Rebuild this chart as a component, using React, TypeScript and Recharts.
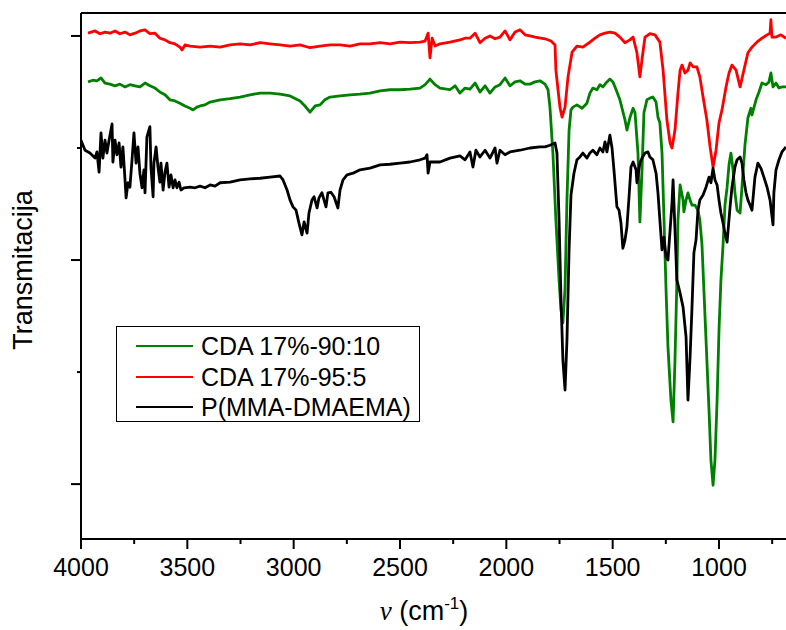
import { LineChart, Line, XAxis, YAxis, ReferenceLine } from 'recharts';

// FTIR spectra, [wavenumber cm-1, transmittance a.u.]
const greenSpectrum: [number, number][] = [
  [3967, 91.8], [3944, 92.1], [3925, 92.0], [3906, 92.5], [3887, 91.6], [3864, 91.4], [3840, 91.1], [3817, 91.4],
  [3793, 90.9], [3770, 91.3], [3746, 91.1], [3723, 90.9], [3699, 91.6], [3676, 91.1], [3652, 90.7], [3629, 90.0],
  [3605, 89.5], [3582, 88.6], [3558, 88.4], [3535, 88.0], [3511, 87.5], [3487, 87.1], [3473, 86.8], [3455, 87.3],
  [3440, 87.5], [3417, 87.7], [3393, 88.2], [3346, 88.6], [3299, 88.8], [3252, 89.1], [3205, 89.5], [3158, 89.8],
  [3111, 89.8], [3064, 89.6], [3017, 89.3], [2970, 88.4], [2947, 87.5], [2923, 86.4], [2899, 87.5], [2876, 87.7],
  [2853, 88.6], [2829, 89.1], [2782, 89.3], [2735, 89.5], [2688, 89.6], [2641, 89.8], [2594, 90.2], [2547, 90.4],
  [2500, 90.4], [2453, 90.5], [2406, 90.7], [2382, 91.3], [2359, 92.3], [2335, 91.3], [2312, 90.7], [2265, 90.4],
  [2241, 91.1], [2218, 89.8], [2194, 90.7], [2171, 90.5], [2147, 91.6], [2124, 90.0], [2100, 91.1], [2077, 89.8],
  [2053, 90.9], [2030, 91.3], [2006, 92.5], [1983, 91.1], [1959, 91.8], [1936, 92.0], [1912, 91.4], [1889, 91.4],
  [1865, 91.8], [1842, 92.0], [1818, 91.4], [1804, 90.4], [1795, 87.3], [1781, 79.1], [1767, 67.1], [1752, 56.4],
  [1743, 51.1], [1734, 48.8], [1724, 55.0], [1715, 70.7], [1705, 83.2], [1696, 86.8], [1687, 87.3], [1668, 87.7],
  [1644, 87.1], [1621, 88.0], [1607, 89.8], [1593, 90.7], [1574, 90.4], [1560, 91.3], [1546, 90.9], [1527, 91.8],
  [1513, 92.3], [1499, 91.8], [1489, 90.9], [1466, 88.6], [1442, 85.0], [1433, 83.2], [1419, 85.4], [1404, 87.1],
  [1395, 86.3], [1381, 79.1], [1372, 66.8], [1362, 76.1], [1353, 86.3], [1339, 88.6], [1325, 88.9], [1311, 89.1],
  [1296, 88.2], [1287, 85.5], [1278, 84.5], [1268, 79.1], [1259, 67.7], [1249, 54.6], [1240, 44.5], [1226, 35.0],
  [1216, 31.1], [1207, 42.1], [1198, 56.4], [1193, 67.1], [1183, 73.4], [1169, 70.7], [1165, 68.6], [1155, 70.7],
  [1146, 72.0], [1136, 70.7], [1127, 69.8], [1113, 69.8], [1099, 68.9], [1090, 67.1], [1080, 62.7], [1071, 54.6],
  [1061, 45.7], [1047, 33.2], [1038, 24.3], [1028, 19.8], [1019, 24.3], [1009, 35.0], [1000, 47.5], [991, 56.4],
  [981, 62.7], [972, 69.8], [962, 73.0], [953, 77.0], [944, 79.1], [934, 76.1], [925, 72.0], [915, 68.9],
  [901, 68.4], [892, 73.0], [878, 80.5], [864, 85.4], [850, 87.1], [845, 85.9], [826, 88.6], [812, 90.0],
  [798, 91.6], [779, 91.3], [765, 91.8], [756, 93.4], [746, 90.9], [732, 91.6], [718, 90.7], [704, 90.9], [685, 90.9],
];

const redSpectrum: [number, number][] = [
  [3967, 100.5], [3934, 100.9], [3911, 100.4], [3887, 100.7], [3864, 100.5], [3840, 100.9], [3817, 100.4], [3793, 100.7],
  [3770, 100.2], [3746, 100.5], [3723, 100.9], [3699, 101.1], [3676, 100.4], [3652, 100.5], [3629, 99.6], [3605, 99.3],
  [3582, 98.8], [3558, 98.6], [3535, 98.0], [3525, 97.5], [3511, 98.4], [3487, 98.2], [3440, 98.0], [3393, 98.2],
  [3346, 98.0], [3299, 98.4], [3252, 98.6], [3205, 98.4], [3158, 98.8], [3111, 98.6], [3064, 98.4], [3017, 98.2],
  [2970, 98.4], [2923, 97.9], [2876, 98.2], [2829, 98.4], [2782, 98.4], [2735, 98.2], [2688, 98.6], [2641, 98.6],
  [2594, 98.8], [2547, 98.6], [2500, 98.9], [2453, 98.8], [2406, 98.9], [2382, 99.1], [2368, 100.5], [2359, 96.1],
  [2349, 99.6], [2335, 98.2], [2312, 98.6], [2265, 98.9], [2218, 99.3], [2194, 99.6], [2171, 99.6], [2147, 100.5],
  [2124, 98.8], [2100, 99.6], [2077, 100.0], [2053, 99.5], [2030, 99.8], [2006, 100.9], [1983, 99.3], [1959, 100.7],
  [1936, 101.1], [1912, 100.2], [1889, 100.0], [1865, 99.8], [1818, 99.5], [1790, 99.1], [1771, 98.4], [1767, 93.9],
  [1757, 90.4], [1748, 87.3], [1738, 85.5], [1724, 87.3], [1710, 92.7], [1691, 97.1], [1668, 98.2], [1640, 98.0],
  [1607, 98.9], [1583, 99.6], [1560, 100.2], [1536, 100.5], [1513, 100.7], [1489, 100.5], [1466, 99.8], [1442, 98.8],
  [1419, 99.3], [1404, 99.8], [1386, 97.0], [1372, 92.7], [1358, 97.0], [1348, 99.8], [1325, 100.4], [1301, 100.2],
  [1278, 98.9], [1263, 93.9], [1245, 85.0], [1230, 80.9], [1221, 80.0], [1207, 83.2], [1193, 89.8], [1183, 93.9],
  [1174, 94.8], [1160, 93.4], [1146, 93.9], [1136, 95.2], [1122, 94.5], [1104, 94.5], [1090, 92.7], [1075, 89.1],
  [1057, 85.0], [1042, 80.2], [1028, 76.6], [1014, 79.6], [1000, 84.5], [986, 86.8], [967, 90.9], [953, 93.4],
  [939, 94.8], [920, 93.9], [901, 90.9], [883, 93.9], [864, 97.0], [845, 98.0], [822, 98.9], [798, 99.6],
  [774, 100.2], [760, 100.5], [756, 102.9], [751, 99.8], [732, 99.8], [709, 100.2], [685, 99.6],
];

const blackSpectrum: [number, number][] = [
  [4000, 81.4], [3981, 79.6], [3958, 79.1], [3934, 78.2], [3925, 79.3], [3915, 75.7], [3906, 82.7], [3897, 78.2],
  [3887, 81.4], [3878, 79.1], [3868, 81.4], [3854, 84.3], [3850, 77.5], [3840, 81.4], [3831, 78.8], [3821, 80.9],
  [3812, 76.6], [3803, 80.2], [3793, 74.3], [3788, 71.1], [3779, 73.8], [3770, 73.0], [3760, 77.9], [3751, 82.7],
  [3741, 77.3], [3732, 80.2], [3723, 75.5], [3713, 72.9], [3704, 76.1], [3699, 72.0], [3690, 82.0], [3676, 83.8],
  [3671, 76.6], [3661, 71.3], [3657, 77.3], [3647, 80.2], [3638, 76.6], [3629, 73.9], [3624, 77.3], [3614, 72.5],
  [3605, 75.7], [3596, 77.3], [3586, 73.0], [3577, 75.2], [3567, 72.9], [3558, 74.3], [3549, 72.9], [3539, 73.9],
  [3530, 72.5], [3516, 72.9], [3487, 73.0], [3464, 72.9], [3440, 73.2], [3417, 72.9], [3393, 73.4], [3370, 73.2],
  [3346, 73.8], [3299, 73.9], [3252, 74.3], [3205, 74.5], [3158, 74.6], [3111, 74.8], [3064, 75.0], [3050, 74.3],
  [3031, 72.5], [3017, 70.7], [3003, 69.5], [2989, 68.9], [2975, 66.6], [2961, 64.5], [2951, 66.8], [2937, 64.8],
  [2928, 68.4], [2914, 70.7], [2904, 71.3], [2890, 69.3], [2881, 71.1], [2867, 72.0], [2848, 69.5], [2839, 72.0],
  [2825, 72.1], [2810, 71.3], [2792, 69.3], [2782, 72.5], [2768, 74.3], [2749, 75.2], [2721, 75.5], [2688, 76.1],
  [2641, 76.4], [2594, 77.0], [2547, 77.1], [2500, 77.3], [2453, 77.5], [2406, 77.9], [2382, 78.2], [2373, 78.8],
  [2368, 75.5], [2359, 77.5], [2312, 77.5], [2265, 78.2], [2218, 78.6], [2194, 77.9], [2171, 79.3], [2157, 76.6],
  [2143, 79.6], [2124, 78.4], [2100, 79.6], [2077, 78.2], [2053, 80.0], [2044, 77.3], [2030, 79.6], [2006, 78.8],
  [1983, 79.3], [1936, 79.6], [1889, 80.0], [1842, 80.2], [1818, 80.2], [1795, 80.5], [1771, 80.9], [1762, 79.1],
  [1752, 67.1], [1743, 52.9], [1734, 42.1], [1724, 36.8], [1715, 45.7], [1705, 61.8], [1696, 71.6], [1682, 75.5],
  [1668, 77.9], [1654, 78.4], [1640, 79.1], [1621, 78.2], [1607, 79.1], [1593, 79.6], [1574, 78.8], [1560, 80.0],
  [1546, 79.3], [1536, 81.1], [1527, 79.3], [1513, 82.3], [1503, 80.0], [1494, 76.1], [1480, 69.5], [1470, 68.9],
  [1461, 66.6], [1452, 62.1], [1442, 63.6], [1433, 65.9], [1423, 71.3], [1414, 76.6], [1404, 77.5], [1390, 76.1],
  [1386, 73.8], [1372, 77.3], [1362, 78.2], [1348, 79.1], [1334, 79.3], [1325, 78.4], [1311, 77.9], [1296, 75.5],
  [1287, 72.0], [1278, 67.1], [1268, 61.8], [1259, 64.1], [1249, 60.5], [1240, 60.0], [1230, 65.4], [1221, 70.2],
  [1216, 74.3], [1207, 65.4], [1198, 56.4], [1183, 54.1], [1169, 51.6], [1155, 46.3], [1146, 35.0], [1136, 42.7],
  [1127, 51.6], [1118, 61.3], [1108, 63.6], [1099, 68.9], [1090, 70.7], [1075, 71.6], [1061, 73.0], [1047, 74.8],
  [1038, 73.8], [1028, 76.4], [1019, 74.3], [1009, 73.4], [1000, 70.7], [991, 68.4], [981, 66.6], [972, 64.8],
  [962, 63.2], [948, 69.5], [939, 73.0], [925, 76.6], [915, 77.9], [901, 78.4], [892, 77.3], [883, 74.3],
  [873, 72.0], [864, 70.7], [854, 69.8], [845, 68.9], [831, 74.8], [817, 77.3], [803, 76.4], [789, 74.8],
  [774, 73.0], [760, 70.7], [746, 66.3], [742, 72.0], [732, 76.1], [718, 77.9], [704, 79.3], [685, 80.2],
];

const seriesNames = ['CDA 17%-90:10', 'CDA 17%-95:5', 'P(MMA-DMAEMA)'];
const seriesColors = ['#008000', '#ff0000', '#000000'];
const xTicks = [4000, 3750, 3500, 3250, 3000, 2750, 2500, 2250, 2000, 1750, 1500, 1250, 1000, 750];
const yTicks = [20, 40, 60, 80, 100];

const X_MIN = 685;
const X_MAX = 4000;
const Y_MIN = 10.2;
const Y_MAX = 104.1;

const FONT = '"Liberation Sans", Arial, sans-serif';

const toRows = (pts: [number, number][]) => pts.map(([w, t]) => ({ w, t }));

function XTick(props: any) {
  const { x, y, payload } = props;
  const major = payload.value % 500 === 0;
  return (
    <g>
      <line x1={x} x2={x} y1={y} y2={y + (major ? 10 : 5)} stroke="#000" strokeWidth={2} />
      {major && (
        <text x={x} y={y + 37} textAnchor="middle" fontSize={25} fontFamily={FONT} fill="#000">
          {payload.value}
        </text>
      )}
    </g>
  );
}

function YTick(props: any) {
  const { x, y, payload } = props;
  const major = (payload.value - 20) % 40 === 0;
  return <line x1={x} x2={x - (major ? 10 : 4)} y1={y} y2={y} stroke="#000" strokeWidth={2} />;
}

const xTitle = () => (
  <text x={424} y={620} textAnchor="middle" fontSize={27} fontFamily={FONT} fill="#000">
    <tspan fontFamily='"Liberation Serif", serif' fontStyle="italic">ν</tspan>
    <tspan> (cm</tspan>
    <tspan fontSize={17} dy={-11}>-1</tspan>
    <tspan dy={11}>)</tspan>
  </text>
);

const yTitle = () => (
  <text
    x={32}
    y={270}
    transform="rotate(-90 32 270)"
    textAnchor="middle"
    fontSize={27}
    fontFamily={FONT}
    fill="#000"
  >
    Transmitacija
  </text>
);

export default function App() {
  const spectra = [greenSpectrum, redSpectrum, blackSpectrum];
  return (
    <div style={{ position: 'absolute', left: 0, top: 0, width: 786, height: 630, background: '#fff' }}>
      <LineChart width={786} height={630} margin={{ top: 13, right: 0, bottom: 31, left: 0 }}>
        <XAxis
          type="number"
          dataKey="w"
          domain={[X_MIN, X_MAX]}
          reversed
          allowDataOverflow
          ticks={xTicks}
          interval={0}
          tick={<XTick />}
          tickLine={false}
          tickSize={0}
          tickMargin={0}
          height={60}
          axisLine={{ stroke: '#000', strokeWidth: 2 }}
          label={xTitle}
        />
        <YAxis
          type="number"
          domain={[Y_MIN, Y_MAX]}
          allowDataOverflow
          ticks={yTicks}
          interval={0}
          tick={<YTick />}
          tickLine={false}
          tickSize={0}
          tickMargin={0}
          width={81}
          axisLine={{ stroke: '#000', strokeWidth: 2 }}
          label={yTitle}
        />
        <ReferenceLine y={Y_MAX} stroke="#000" strokeWidth={2} />
        {spectra.map((pts, i) => (
          <Line
            key={seriesNames[i]}
            data={toRows(pts)}
            dataKey="t"
            name={seriesNames[i]}
            type="linear"
            stroke={seriesColors[i]}
            strokeWidth={2.8}
            strokeLinejoin="round"
            dot={false}
            isAnimationActive={false}
          />
        ))}
      </LineChart>
      <div
        style={{
          position: 'absolute',
          left: 116,
          top: 326,
          width: 304,
          height: 96,
          border: '1px solid #000',
          fontFamily: FONT,
          fontSize: 25,
          color: '#000',
          boxSizing: 'border-box',
          paddingTop: 4,
        }}
      >
        {seriesNames.map((name, i) => (
          <div key={name} style={{ display: 'flex', alignItems: 'center', height: 30.5, lineHeight: '30px' }}>
            <span
              style={{
                display: 'inline-block',
                width: 57,
                height: 2,
                background: seriesColors[i],
                marginLeft: 19,
                marginRight: 8,
              }}
            />
            <span>{name}</span>
          </div>
        ))}
      </div>
    </div>
  );
}
